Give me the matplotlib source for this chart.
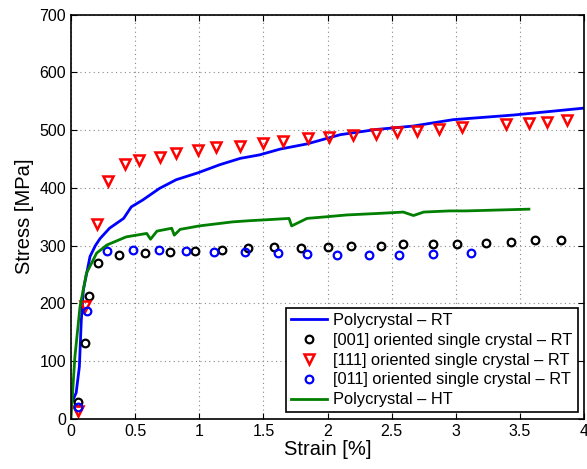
import matplotlib.pyplot as plt

plt.rcParams["font.family"] = ["Liberation Sans", "DejaVu Sans"]

# Polycrystal - RT (blue line)
poly_rt_strain = [0.0, 0.04, 0.065, 0.08, 0.096, 0.148, 0.19, 0.226, 0.30, 0.41, 0.47,
                  0.56, 0.69, 0.82, 0.99, 1.16, 1.32, 1.47, 1.63, 1.84, 2.10,
                  2.38, 2.67, 2.98, 3.45, 4.0]
poly_rt_stress = [25, 45, 90, 170, 223, 281, 300, 312, 330, 347, 367,
                  379, 399, 414, 426, 440, 451, 457, 467, 476, 492,
                  501, 507, 518, 526, 538]

# Polycrystal - HT (green line)
poly_ht_strain = [0.0, 0.03, 0.07, 0.12, 0.2, 0.28, 0.43, 0.59, 0.62, 0.67, 0.785,
                  0.805, 0.85, 1.0, 1.26, 1.39, 1.55, 1.70, 1.72, 1.84, 2.0,
                  2.15, 2.43, 2.59, 2.67, 2.75, 2.95, 3.08, 3.57]
poly_ht_stress = [3, 107, 194, 252, 287, 301, 315, 321, 311, 325, 330,
                  318, 328, 334, 341, 343, 345, 347, 334, 347, 350,
                  353, 356, 358, 352, 358, 360, 360, 363]

# [001] oriented single crystal - RT (black circles)
sc001_strain = [0.057, 0.109, 0.14, 0.213, 0.377, 0.577, 0.77, 0.969, 1.18, 1.38,
                1.585, 1.79, 2.0, 2.18, 2.42, 2.59, 2.82, 3.006, 3.235, 3.43,
                3.62, 3.82]
sc001_stress = [29, 132, 213, 269, 284, 287, 289, 290, 292, 295,
                297, 296, 298, 299, 299, 302, 302, 303, 305, 306,
                309, 310]

# [111] oriented single crystal - RT (red triangles)
sc111_strain = [0.057, 0.109, 0.20, 0.29, 0.42, 0.53, 0.69, 0.82, 0.99, 1.13,
                1.32, 1.50, 1.655, 1.85, 2.01, 2.196, 2.38, 2.54, 2.70, 2.87,
                3.05, 3.39, 3.57, 3.71, 3.87]
sc111_stress = [14, 195, 338, 412, 441, 448, 454, 461, 465, 470,
                473, 477, 481, 486, 488, 491, 494, 497, 499, 502,
                506, 510, 512, 514, 517]

# [011] oriented single crystal - RT (blue circles)
sc011_strain = [0.057, 0.122, 0.278, 0.48, 0.688, 0.90, 1.117, 1.356, 1.61, 1.84,
                2.07, 2.32, 2.56, 2.82, 3.12]
sc011_stress = [20, 187, 291, 293, 292, 291, 289, 288, 287, 285,
                284, 284, 284, 285, 287]

fig = plt.figure(figsize=(5.87, 4.69), dpi=100)
ax = fig.add_axes([0.121, 0.107, 0.874, 0.862])

ax.plot(poly_rt_strain, poly_rt_stress, color="#0000ff", lw=2, label="Polycrystal – RT")
ax.plot(sc001_strain, sc001_stress, "o", ms=5.5, mfc="none", mec="black", mew=1.6,
        label="[001] oriented single crystal – RT")
ax.plot(sc111_strain, sc111_stress, "v", ms=6.8, mfc="none", mec="#ff0000", mew=1.8,
        label="[111] oriented single crystal – RT")
ax.plot(sc011_strain, sc011_stress, "o", ms=5.5, mfc="none", mec="#0000ff", mew=1.6,
        label="[011] oriented single crystal – RT")
ax.plot(poly_ht_strain, poly_ht_stress, color="#007f00", lw=2, label="Polycrystal – HT")

ax.set_xlim(0, 4)
ax.set_ylim(0, 700)
ax.set_xticks([0, 0.5, 1, 1.5, 2, 2.5, 3, 3.5, 4])
ax.set_xticklabels(["0", "0.5", "1", "1.5", "2", "2.5", "3", "3.5", "4"])
ax.set_yticks(range(0, 701, 100))
ax.tick_params(direction="in", top=True, right=True, labelsize=11.5, length=4)
ax.grid(True, linestyle=(0, (1, 3)), color="#888888", lw=0.8)
for s in ax.spines.values():
    s.set_linewidth(1.2)

ax.set_xlabel("Strain [%]", fontsize=14.5, labelpad=1)
ax.set_ylabel("Stress [MPa]", fontsize=14.5, labelpad=4)

leg = ax.legend(loc="lower right", fontsize=11.8, fancybox=False, framealpha=1,
                edgecolor="black", borderaxespad=0.4, handlelength=2.2,
                handletextpad=0.4, labelspacing=0.3, borderpad=0.3)
leg.get_frame().set_linewidth(1.2)

fig.savefig("out.png", dpi=100)
